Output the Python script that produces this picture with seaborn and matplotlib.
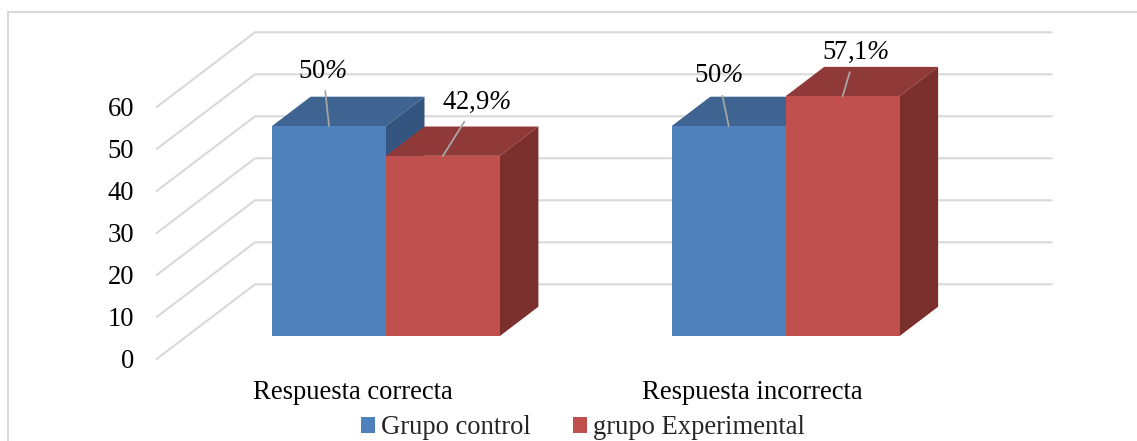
import matplotlib
matplotlib.use("Agg")
import matplotlib.pyplot as plt
from matplotlib.lines import Line2D
from matplotlib.patches import Polygon
import pandas as pd
import seaborn as sns

# Chart values
categories = ["Respuesta correcta", "Respuesta incorrecta"]
grupo_control = [50, 50]
grupo_experimental = [42.9, 57.1]
series_names = ["Grupo control", "grupo Experimental"]
value_labels = [["50", "50"], ["42,9", "57,1"]]
axis_ticks = [0, 10, 20, 30, 40, 50, 60]

# Colours for the faces of each box: front, top, side
FACES = [("#4F81BD", "#3F6491", "#34557F"), ("#C0504D", "#8F3A38", "#7B302E")]
GRID = "#D9D9D9"
LEADER = "#A6A6A6"

W, H = 1137, 441
PX_PER_CAT = 399.7
PX_PER_UNIT = 4.2
X0_PX, Y0_PX = 386, 336   # pixel position of the first group's centre on the baseline


def px_w(px):
    return px * 72 / 100  # pixels to points at 100 dpi


sns.set_theme(style="white")
plt.rcParams["font.family"] = ["Liberation Serif", "DejaVu Serif"]
# The percent sign in the value labels is set in the italic cut
plt.rcParams["mathtext.fontset"] = "custom"
plt.rcParams["mathtext.rm"] = "Liberation Serif:italic"
plt.rcParams["mathtext.it"] = "Liberation Serif:italic"
FS = 19.2

fig = plt.figure(figsize=(W / 100, H / 100), dpi=100, facecolor="white")
ax = fig.add_axes([0, 0, 1, 1], facecolor="none")

df = pd.DataFrame({
    "categoria": categories * 2,
    "valor": grupo_control + grupo_experimental,
    "grupo": [series_names[0]] * 2 + [series_names[1]] * 2,
})
sns.barplot(data=df, x="categoria", y="valor", hue="grupo", hue_order=series_names,
            palette=[FACES[0][0], FACES[1][0]], width=0.57, gap=0, dodge=True,
            saturation=1, linewidth=0, ax=ax)

ax.set_xlim(-X0_PX / PX_PER_CAT, (W - X0_PX) / PX_PER_CAT)
ax.set_ylim((Y0_PX - H) / PX_PER_UNIT, Y0_PX / PX_PER_UNIT)

# Depth of the boxes and of the floor, in data units
box_dx, box_dy = 38.5 / PX_PER_CAT, 29.3 / PX_PER_UNIT
floor_dx, floor_dy = 98.3 / PX_PER_CAT, 74.7 / PX_PER_UNIT
front_y = -23 / PX_PER_UNIT          # height of value 0 at the front of the floor
front_x = (156.7 - X0_PX) / PX_PER_CAT
wall_end_x = (1051.7 - X0_PX) / PX_PER_CAT

# Back wall lines and floor/side-wall diagonals
for v in axis_ticks:
    y_front = v + front_y
    y_back = y_front + floor_dy
    ax.plot([front_x, front_x + floor_dx, wall_end_x], [y_front, y_back, y_back],
            color=GRID, lw=1.5, zorder=1, solid_joinstyle="miter")

# Top and side faces behind every seaborn bar
z = 3
for container, (front, top, side) in zip(ax.containers, FACES):
    for bar in container:
        x0, x1 = bar.get_x(), bar.get_x() + bar.get_width()
        h = bar.get_height()
        ax.add_patch(Polygon([(x0, h), (x1, h), (x1 + box_dx, h + box_dy), (x0 + box_dx, h + box_dy)],
                             closed=True, facecolor=top, edgecolor="none", zorder=z))
        ax.add_patch(Polygon([(x1, 0), (x1 + box_dx, box_dy), (x1 + box_dx, h + box_dy), (x1, h)],
                             closed=True, facecolor=side, edgecolor="none", zorder=z))
        bar.set_zorder(z + 1)
    z += 2

# Value labels with leader lines (offsets in pixels from the top centre of each bar)
label_offsets = [[(-6, 55), (-10.5, 50)], [(33.5, 53.5), (13, 44)]]
for s, container in enumerate(ax.containers):
    for c, bar in enumerate(container):
        dx, dy = label_offsets[s][c]
        ax.annotate(value_labels[s][c] + r"$\mathrm{\%}$",
                    xy=(bar.get_x() + bar.get_width() / 2, bar.get_height()),
                    xytext=(px_w(dx), px_w(dy)), textcoords="offset points",
                    ha="center", va="center", fontsize=FS, color="black", zorder=20,
                    arrowprops=dict(arrowstyle="-", color=LEADER, lw=1.3, shrinkA=3, shrinkB=0))

# Axis ticks sit at the front edge of the floor
ax.set_yticks([v + front_y for v in axis_ticks], [str(v) for v in axis_ticks])
ax.spines["left"].set_position(("data", front_x))
ax.tick_params(axis="y", length=0, pad=px_w(22.5), labelsize=FS, labelcolor="black")

ax.set_xticks([i - 33 / PX_PER_CAT for i in range(len(categories))], categories)
ax.spines["bottom"].set_position(("data", front_y))
ax.tick_params(axis="x", length=0, pad=px_w(21), labelsize=FS, labelcolor="black")

ax.set_xlabel("")
ax.set_ylabel("")
for spine in ax.spines.values():
    spine.set_visible(False)

# Legend below the categories
handles, labels = ax.get_legend_handles_labels()
ax.legend(handles, labels, ncols=2, frameon=False, fontsize=FS,
          loc="center", bbox_to_anchor=(583 / W, 1 - 428 / H), bbox_transform=fig.transFigure,
          handlelength=0.52, handleheight=0.52, handletextpad=0.22, columnspacing=1.6,
          borderpad=0, borderaxespad=0)

# Outer chart frame (top and left edges)
fig.add_artist(Line2D([8 / W, 8 / W, 1], [0, 1 - 12 / H, 1 - 12 / H],
                      color=GRID, lw=1.5, solid_joinstyle="miter"))

fig.savefig("out.png", dpi=100, facecolor="white")
